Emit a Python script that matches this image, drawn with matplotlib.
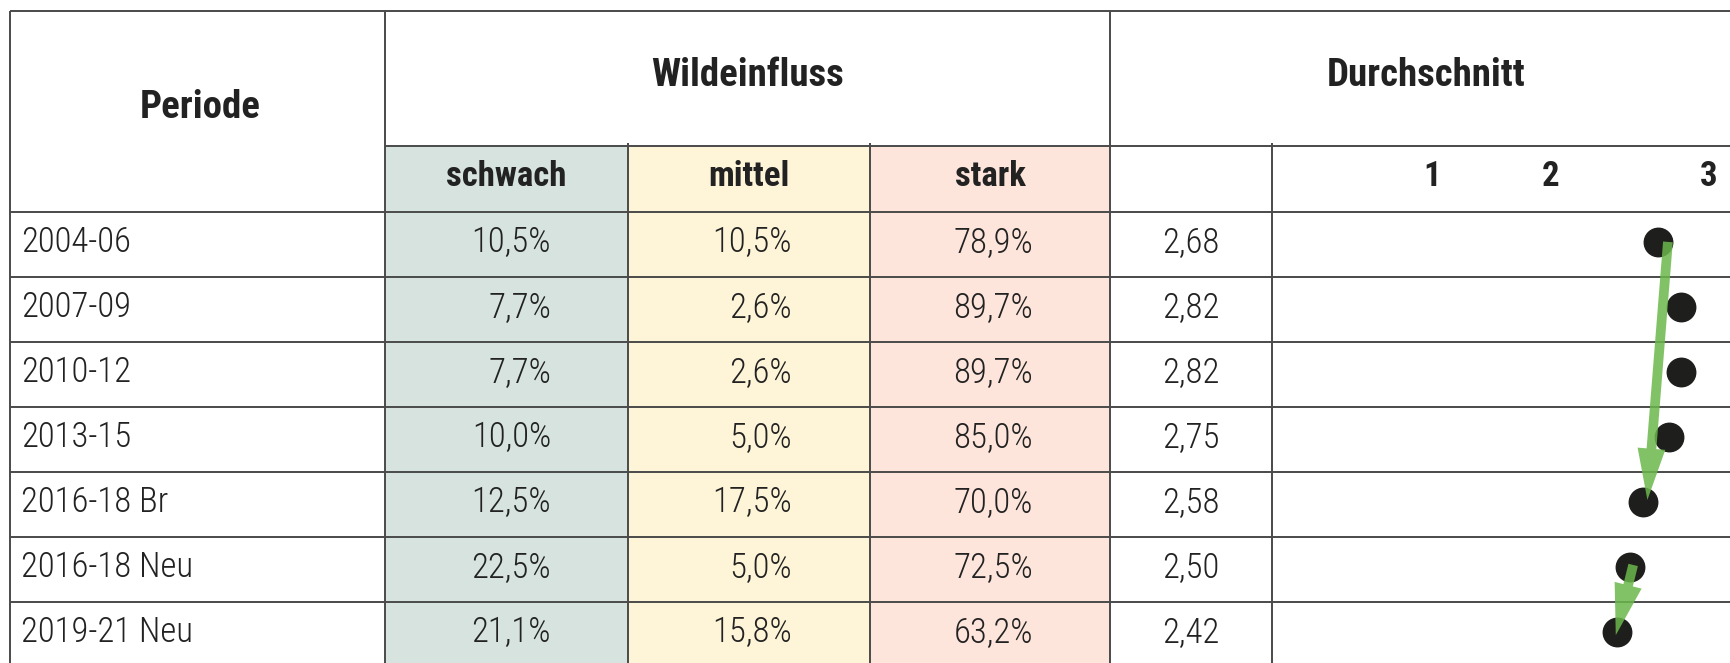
"""

    wildeinfluss.py

    Table of browsing pressure classes per period with mean dot column

"""

from matplotlib import pyplot as plt
from matplotlib import font_manager
from matplotlib.patches import Rectangle
from matplotlib.transforms import blended_transform_factory

periods = ['2004-06', '2007-09', '2010-12', '2013-15',
           '2016-18 Br', '2016-18 Neu', '2019-21 Neu']
schwach = [10.5, 7.7, 7.7, 10.0, 12.5, 22.5, 21.1]
mittel = [10.5, 2.6, 2.6, 5.0, 17.5, 5.0, 15.8]
stark = [78.9, 89.7, 89.7, 85.0, 70.0, 72.5, 63.2]
mean = [2.68, 2.82, 2.82, 2.75, 2.58, 2.50, 2.42]

class_labels = ['schwach', 'mittel', 'stark']
scale_labels = ['1', '2', '3']
# the "1" is printed left of its true place in the original
scale_pos = [1.25, 2, 3]

# trend arrows (start value, start row, end value, end row)
trends = [(2.74, 0, 2.61, 3.97), (2.52, 4.97, 2.41, 6.05)]

names = {f.name for f in font_manager.fontManager.ttflist}
font = 'DejaVu Sans'
for cand in ['Liberation Sans Narrow', 'Roboto Condensed', 'Open Sans Condensed']:
    if cand in names:
        font = cand
        break
plt.rcParams['font.family'] = [font, 'DejaVu Sans']

W, H = 1731, 663
fig = plt.figure(figsize = (W/100., H/100.), dpi = 100)
ax = fig.add_axes([0, 0, 1, 1])
ax.set_xlim(0, W)
ax.set_ylim(H, 0)
ax.axis('off')

# column edges (px)
x_left, x_per, x_s, x_m, x_st, x_mean, x_dot = 10, 385, 628, 870, 1110, 1272, W
y_top, y_sub, y_head = 11, 146, 212
row_h = 65.

bg = ['#d6e3df', '#fef5d9', '#fde5dc']
edges = [x_per, x_s, x_m, x_st]
for i in range(3):
    ax.add_patch(Rectangle((edges[i], y_sub), edges[i+1] - edges[i], H - y_sub,
                           color = bg[i], lw = 0, zorder = 0))

lc = '#4a4a4a'
lw = 1.4
ax.hlines(y_top, x_left, W, color = lc, lw = lw)
ax.hlines(y_sub, x_per, W, color = lc, lw = lw)
for i in range(len(periods)):
    ax.hlines(y_head + i*row_h, x_left, W, color = lc, lw = lw)
ax.vlines([x_left, x_per, x_st], y_top, H, color = lc, lw = lw)
ax.vlines([x_s, x_m, x_mean], y_sub - 3, H, color = lc, lw = lw)

tc = '#222222'
ax.text((x_left + x_per)/2 + 3, 108, 'Periode', ha = 'center', va = 'center',
        fontsize = 28, fontweight = 'bold', color = tc)
ax.text((x_per + x_st)/2, 76, 'Wildeinfluss', ha = 'center', va = 'center',
        fontsize = 28, fontweight = 'bold', color = tc)
ax.text((x_st + W)/2 + 6, 76, 'Durchschnitt', ha = 'center', va = 'center',
        fontsize = 28, fontweight = 'bold', color = tc)
for i, lab in enumerate(class_labels):
    ax.text((edges[i] + edges[i+1])/2, 177, lab, ha = 'center', va = 'center',
            fontsize = 25, fontweight = 'bold', color = tc)

def pct(v):
    return ('%.1f%%' % v).replace('.', ',')

fs = 25
fw = 'light'
for i in range(len(periods)):
    yc = y_head + row_h*(i + 0.5) - 2
    ax.text(x_left + 11, yc, periods[i], ha = 'left', va = 'center', fontsize = fs, fontweight = fw, color = tc)
    ax.text(551, yc, pct(schwach[i]), ha = 'right', va = 'center', fontsize = fs, fontweight = fw, color = tc)
    ax.text(792, yc, pct(mittel[i]), ha = 'right', va = 'center', fontsize = fs, fontweight = fw, color = tc)
    ax.text(1033, yc, pct(stark[i]), ha = 'right', va = 'center', fontsize = fs, fontweight = fw, color = tc)
    ax.text((x_st + x_mean)/2, yc, ('%.2f' % mean[i]).replace('.', ','),
            ha = 'center', va = 'center', fontsize = fs, fontweight = fw, color = tc)

# dot column: 2 -> 1551 px, 3 -> 1709 px
px_per_unit = 158.
x0 = 2 - (1551 - x_mean)/px_per_unit
x1 = 3 + (W - 1709)/px_per_unit
n = len(periods)
dax = fig.add_axes([x_mean/W, (H - (y_head + n*row_h))/H, (W - x_mean)/W, n*row_h/H])
dax.set_xlim(x0, x1)
dax.set_ylim(n - 0.5, -0.5)
dax.axis('off')
dax.patch.set_visible(False)

dax.plot(mean, [i - 0.04 for i in range(n)], 'o', color = '#1e1e1c',
         markersize = 20.5, ls = 'none', zorder = 2)

for (xa, ya, xb, yb) in trends:
    dax.annotate('', xy = (xb, yb - 0.04), xytext = (xa, ya - 0.04),
                 arrowprops = dict(arrowstyle = 'simple,head_length=3.7,head_width=2.0,tail_width=0.7',
                                   mutation_scale = 10, color = '#6cb84c', alpha = 0.85,
                                   lw = 0, shrinkA = 0, shrinkB = 0),
                 zorder = 3)

trans = blended_transform_factory(dax.transData, ax.transData)
for p, lab in zip(scale_pos, scale_labels):
    ax.text(p, 177, lab, transform = trans, ha = 'center', va = 'center',
            fontsize = 25, fontweight = 'bold', color = tc)

fig.savefig('out.png', dpi = 100)
